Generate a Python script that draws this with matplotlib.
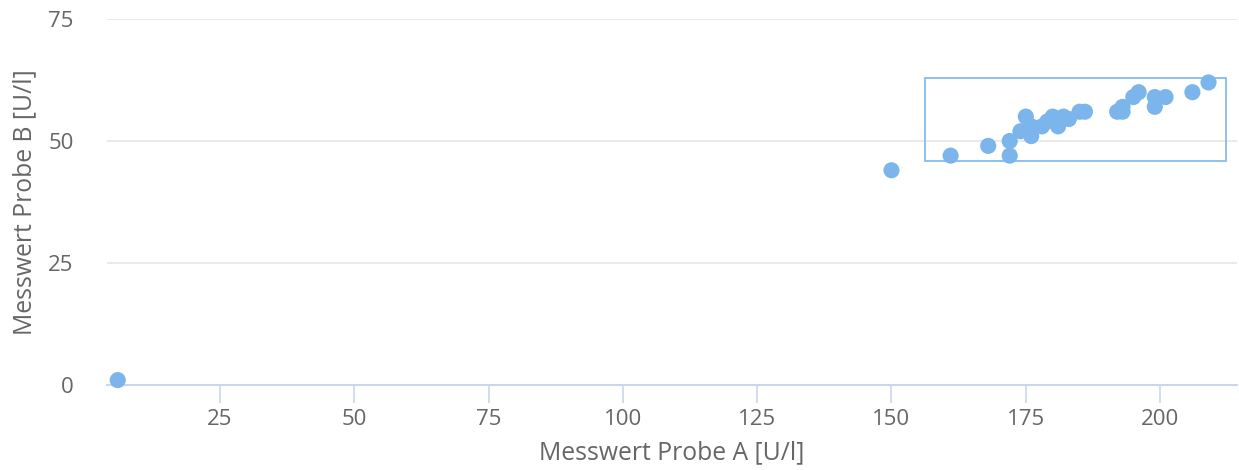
import matplotlib
matplotlib.use("Agg")
import matplotlib.pyplot as plt
from matplotlib.patches import Rectangle

# Paired measurements of the same samples (U/l)
probe_a = [6, 150, 161, 168, 172, 172, 174, 175, 176, 176, 178, 179, 180, 181,
           182, 183, 185, 186, 192, 193, 193, 195, 196, 199, 199, 201, 206, 209]
probe_b = [1, 44, 47, 49, 50, 47, 52, 55, 51, 53, 53, 54, 55, 53,
           55, 54.5, 56, 56, 56, 56, 57, 59, 60, 57, 59, 59, 60, 62]

# Highlighted region (selection box)
box_x = [156.2, 212.2]
box_y = [46.0, 62.9]

x_ticks = [25, 50, 75, 100, 125, 150, 175, 200]
y_ticks = [0, 25, 50, 75]

point_color = "#7cb5ec"
text_color = "#666666"
grid_color = "#e6e6e6"
axis_color = "#ccd6eb"

plt.rcParams["font.family"] = ["Open Sans", "DejaVu Sans"]

fig = plt.figure(figsize=(12.39, 4.70), dpi=100)
ax = fig.add_axes([107 / 1239, 1 - 385 / 470, 1130 / 1239, 366 / 470])

ax.scatter(probe_a, probe_b, s=135, color=point_color, edgecolors="none",
           zorder=3, clip_on=False)

ax.add_patch(Rectangle((box_x[0], box_y[0]), box_x[1] - box_x[0],
                       box_y[1] - box_y[0], fill=False,
                       edgecolor=point_color, linewidth=1.2, zorder=4))

ax.set_xlim(4, 214.3)
ax.set_ylim(0, 75)
ax.set_xticks(x_ticks)
ax.set_yticks(y_ticks)

ax.grid(axis="y", color=grid_color, linewidth=1.2, zorder=0)
ax.set_axisbelow(True)

for side in ("top", "right", "left"):
    ax.spines[side].set_visible(False)
ax.spines["bottom"].set_color(axis_color)
ax.spines["bottom"].set_linewidth(1.5)

ax.tick_params(axis="x", length=13, width=1.2, color=axis_color,
               labelcolor=text_color, labelsize=16, pad=4)
ax.tick_params(axis="y", length=0, labelcolor=text_color, labelsize=16,
               pad=24)

ax.set_xlabel("Messwert Probe A [U/l]", color=text_color, fontsize=17.8,
              labelpad=8)
ax.set_ylabel("Messwert Probe B [U/l]", color=text_color, fontsize=17.8,
              labelpad=8)

fig.savefig("out.png", dpi=100)
